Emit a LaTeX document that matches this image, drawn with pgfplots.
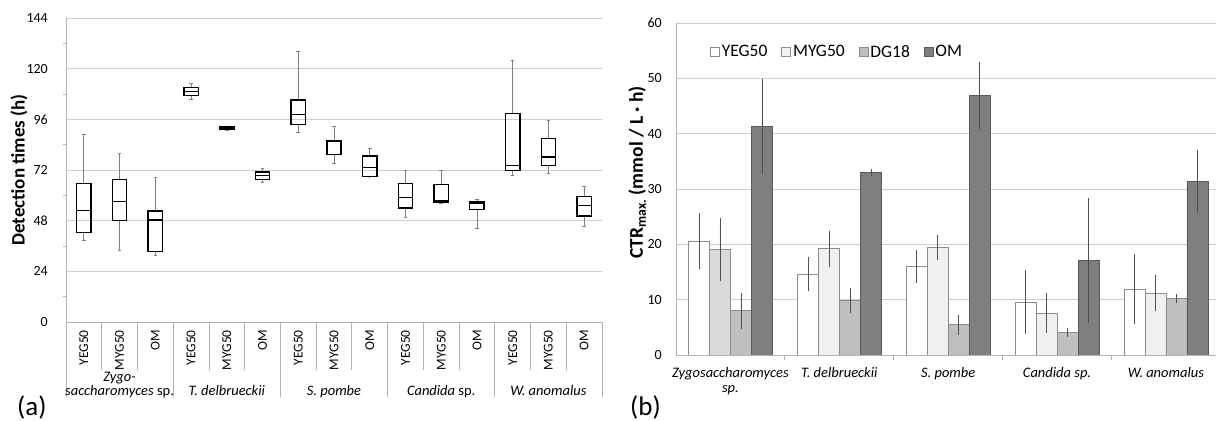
\documentclass[border=0pt]{standalone}
\usepackage{fontspec}
\setmainfont{Carlito}
\usepackage{pgfplots}
\pgfplotsset{compat=1.18}
\usepgfplotslibrary{statistics}
\usepackage{pgfplotstable}

\definecolor{gridc}{HTML}{D0D0D0}
\definecolor{axc}{HTML}{B4B4B4}
\definecolor{whc}{HTML}{808080}
\definecolor{mygc}{HTML}{F0F0F0}
\definecolor{mygz}{HTML}{D9D9D9}
\definecolor{dgc}{HTML}{BFBFBF}
\definecolor{omc}{HTML}{7F7F7F}
\definecolor{barline}{HTML}{8C8C8C}
\definecolor{omline}{HTML}{5A5A5A}
\definecolor{errc}{HTML}{505050}

\newcommand{\nfont}{\fontsize{14bp}{16bp}\selectfont}
\newcommand{\sfont}{\fontsize{13.5bp}{15bp}\selectfont}
\newcommand{\gfont}{\fontsize{14.5bp}{15bp}\selectfont}

% CTRmax: mean and error for each medium
\pgfplotstableread{
x yeg yege myg myge dg dge om ome
0 20.6 4.7 19.1 5.3 8.0 2.9 41.3 8.3
1 14.6 2.7 19.2 2.9 9.9 1.9 33.0 0.2
2 16.0 2.65 19.5 1.9 5.5 1.45 46.9 5.7
3 9.6 5.45 7.6 3.2 4.1 0.45 17.1 10.9
4 11.9 5.95 11.2 2.95 10.2 0.45 31.4 5.3
}\ctrdata

\pgfplotsset{
  errb/.style={error bars/.cd, y dir=both, y explicit,
    error bar style={draw=errc, line width=0.6bp},
    error mark options={draw=errc, line width=0.6bp, mark size=2bp}},
  lgsq/.style={legend image code/.code={\path[draw,fill,##1] (0bp,-4.5bp) rectangle (9bp,4.5bp);}},
}

\begin{document}
\begin{tikzpicture}
\path[use as bounding box] (0,0) rectangle (1216bp,421bp);

% ---------------- (a) ----------------
\begin{axis}[
  at={(66bp,99bp)}, anchor=south west, scale only axis,
  width=536bp, height=304bp,
  xmin=-0.5, xmax=14.5, ymin=0, ymax=144,
  ytick={0,24,...,144}, minor ytick={12,36,...,132},
  xtick={0,...,14},
  xticklabels={YEG50,MYG50,OM,YEG50,MYG50,OM,YEG50,MYG50,OM,YEG50,MYG50,OM,YEG50,MYG50,OM},
  axis x line*=bottom, axis y line*=left,
  axis line style={draw=axc, line width=0.8bp},
  ymajorgrids, grid style={draw=gridc, line width=0.8bp},
  major tick length=0pt, minor tick length=3bp, tick align=outside,
  minor tick style={draw=axc, line width=0.8bp},
  yticklabel style={font=\nfont, inner sep=0pt}, yticklabel shift=18bp,
  /pgf/number format/assume math mode=true,
  xticklabel style={font=\sfont, rotate=90, anchor=east, inner sep=0pt}, xticklabel shift=8bp,
  ylabel={\textbf{Detection times (h)}},
  ylabel style={font=\fontsize{19bp}{21bp}\selectfont, at={(axis description cs:-0.0877,0.5)}, anchor=center},
  clip=false,
  boxplot/draw direction=y,
  boxplot/box extend=0.4, boxplot/whisker extend=0.1,
  boxplot/every box/.style={draw=black, line width=1.4bp},
  boxplot/every median/.style={draw=black, line width=1.4bp},
  boxplot/every whisker/.style={draw=whc, line width=0.8bp},
]
\addplot[boxplot prepared={draw direction=y, draw position=0, lower whisker=38.5, lower quartile=42.5, median=52.7, upper quartile=65.7, upper whisker=89.0}] coordinates {};
\addplot[boxplot prepared={draw direction=y, draw position=1, lower whisker=34.1, lower quartile=48.0, median=57.2, upper quartile=67.6, upper whisker=79.9}] coordinates {};
\addplot[boxplot prepared={draw direction=y, draw position=2, lower whisker=31.6, lower quartile=33.5, median=48.3, upper quartile=52.6, upper whisker=68.7}] coordinates {};
\addplot[boxplot prepared={draw direction=y, draw position=3, lower whisker=105.5, lower quartile=107.2, median=109.1, upper quartile=111.2, upper whisker=113.2}] coordinates {};
\addplot[boxplot prepared={draw direction=y, draw position=4, lower whisker=90.8, lower quartile=91.1, median=91.8, upper quartile=92.5, upper whisker=92.8}] coordinates {};
\addplot[boxplot prepared={draw direction=y, draw position=5, lower whisker=66.0, lower quartile=67.6, median=69.5, upper quartile=71.1, upper whisker=72.6}] coordinates {};
\addplot[boxplot prepared={draw direction=y, draw position=6, lower whisker=89.6, lower quartile=93.6, median=98.2, upper quartile=105.2, upper whisker=128.0}] coordinates {};
\addplot[boxplot prepared={draw direction=y, draw position=7, lower whisker=75.1, lower quartile=79.4, median=79.4, upper quartile=85.7, upper whisker=92.5}] coordinates {};
\addplot[boxplot prepared={draw direction=y, draw position=8, lower whisker=68.8, lower quartile=68.9, median=73.2, upper quartile=78.6, upper whisker=82.1}] coordinates {};
\addplot[boxplot prepared={draw direction=y, draw position=9, lower whisker=49.6, lower quartile=54.0, median=59.1, upper quartile=65.5, upper whisker=72.0}] coordinates {};
\addplot[boxplot prepared={draw direction=y, draw position=10, lower whisker=56.1, lower quartile=56.8, median=57.4, upper quartile=65.0, upper whisker=72.0}] coordinates {};
\addplot[boxplot prepared={draw direction=y, draw position=11, lower whisker=44.4, lower quartile=53.4, median=56.3, upper quartile=56.8, upper whisker=58.1}] coordinates {};
\addplot[boxplot prepared={draw direction=y, draw position=12, lower whisker=69.5, lower quartile=71.7, median=74.0, upper quartile=98.8, upper whisker=124.0}] coordinates {};
\addplot[boxplot prepared={draw direction=y, draw position=13, lower whisker=70.4, lower quartile=74.2, median=78.2, upper quartile=86.8, upper whisker=95.7}] coordinates {};
\addplot[boxplot prepared={draw direction=y, draw position=14, lower whisker=45.5, lower quartile=50.2, median=55.1, upper quartile=59.5, upper whisker=64.0}] coordinates {};

\pgfplotsinvokeforeach{0.5,1.5,3.5,4.5,6.5,7.5,9.5,10.5,12.5,13.5}{
  \draw[axc, line width=0.8bp] (axis cs:#1,0) -- (axis cs:#1,-22.7);
}
\pgfplotsinvokeforeach{-0.5,2.5,5.5,8.5,11.5,14.5}{
  \draw[axc, line width=0.8bp] (axis cs:#1,0) -- (axis cs:#1,-35.5);
}
\node[font=\gfont, anchor=base] at (axis cs:1,-28.4) {\textit{Zygo-}};
\node[font=\gfont, anchor=base] at (axis cs:1,-35.05) {\textit{saccharomyces} sp.};
\node[font=\gfont, anchor=base] at (axis cs:4,-35.05) {\textit{T. delbrueckii}};
\node[font=\gfont, anchor=base] at (axis cs:7,-35.05) {\textit{S. pombe}};
\node[font=\gfont, anchor=base] at (axis cs:10,-35.05) {\textit{Candida} sp.};
\node[font=\gfont, anchor=base] at (axis cs:13,-35.05) {\textit{W. anomalus}};
\end{axis}

% ---------------- (b) ----------------
\begin{axis}[
  at={(676bp,66bp)}, anchor=south west, scale only axis,
  width=540bp, height=332bp,
  xmin=-0.5, xmax=4.46, ymin=0, ymax=60,
  ytick={0,10,...,60},
  xtick={0,...,4},
  xticklabels={{\textit{Zygosaccharomyces}\\\textit{sp.}},\textit{T. delbrueckii},\textit{S. pombe},\textit{Candida sp.},\textit{W. anomalus}},
  minor xtick={0.5,1.5,2.5,3.5},
  axis x line*=bottom, axis y line*=left,
  axis line style={draw=axc, line width=0.8bp},
  ymajorgrids, grid style={draw=gridc, line width=0.8bp},
  major tick length=0pt, minor tick length=5bp, tick align=outside,
  minor tick style={draw=axc, line width=0.8bp},
  yticklabel style={font=\nfont, inner sep=0pt}, yticklabel shift=14bp,
  /pgf/number format/assume math mode=true,
  xticklabel style={font=\gfont, align=center, anchor=north, inner sep=0pt}, xticklabel shift=12bp,
  ylabel={\textbf{CTR\textsubscript{max.} (mmol / L · h)}},
  ylabel style={font=\fontsize{19.5bp}{21bp}\selectfont, at={(axis description cs:-0.072,0.55)}, anchor=center},
  ybar, bar width=21bp,
  legend style={at={(0.063,0.913)}, anchor=west, draw=none, fill=none,
    font=\fontsize{17.5bp}{19bp}\selectfont, legend columns=-1, inner sep=0pt,
    /tikz/every even column/.append style={column sep=12bp}},
]
\addplot[ybar, bar shift=-31.5bp, fill=white, draw=barline, line width=0.6bp, lgsq, errb]
  table[x=x, y=yeg, y error=yege] {\ctrdata};
\addplot[ybar, bar shift=-10.5bp, fill=mygc, draw=barline, line width=0.6bp, lgsq, errb]
  table[x=x, y=myg, y error=myge] {\ctrdata};
\addplot[ybar, bar shift=-10.5bp, fill=mygz, draw=barline, line width=0.6bp, forget plot, errb]
  coordinates {(0,19.1) +- (0,5.3)};
\addplot[ybar, bar shift=10.5bp, fill=dgc, draw=barline, line width=0.6bp, lgsq, errb]
  table[x=x, y=dg, y error=dge] {\ctrdata};
\addplot[ybar, bar shift=31.5bp, fill=omc, draw=omline, line width=0.6bp, lgsq, errb]
  table[x=x, y=om, y error=ome] {\ctrdata};
\legend{YEG50,MYG50,DG18,OM}
\end{axis}

\node[font=\fontsize{27bp}{30bp}\selectfont, anchor=base west, inner sep=0pt] at (17bp,5.5bp) {(a)};
\node[font=\fontsize{27bp}{30bp}\selectfont, anchor=base west, inner sep=0pt] at (630bp,5.5bp) {(b)};
\end{tikzpicture}
\end{document}
